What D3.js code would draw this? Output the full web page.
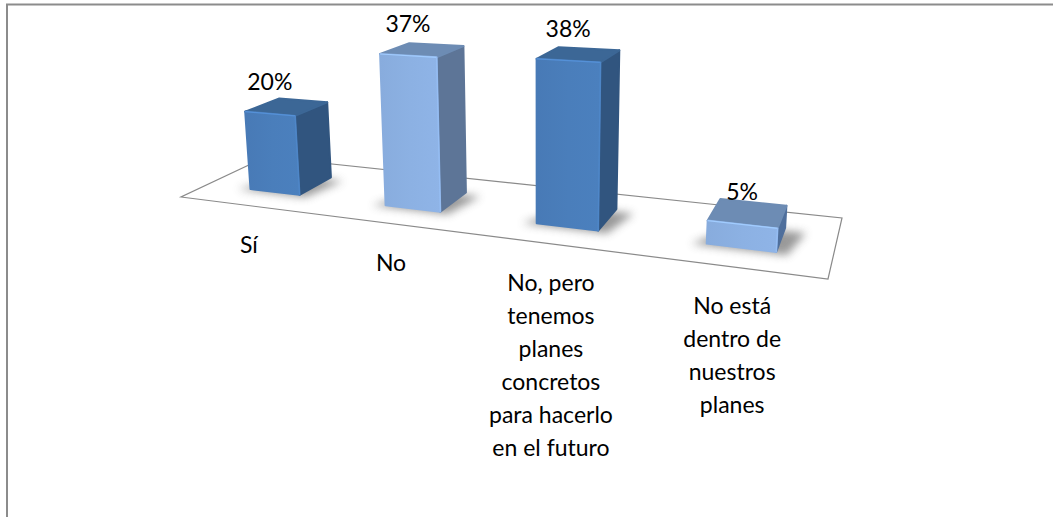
<!DOCTYPE html>
<html><head><meta charset="utf-8">
<script src="https://d3js.org/d3.v7.min.js"></script>
<style>html,body{margin:0;padding:0;background:#fff}svg{display:block}</style>
</head><body><svg width="1053" height="517"></svg>
<script>
const categories = ["Sí","No","No, pero tenemos planes concretos para hacerlo en el futuro","No está dentro de nuestros planes"];
const categoryLines = [["Sí"],["No"],["No, pero","tenemos","planes","concretos","para hacerlo","en el futuro"],["No está","dentro de","nuestros","planes"]];
const values = [20,37,38,5];
const labels = ["20%","37%","38%","5%"];
const fronts = ["#4a7ebb","#8cb1e3","#4a7ebb","#8cb1e3"];
const sides  = ["#31557f","#5d7597","#31557f","#4f6f9c"];
const tops   = ["#3c6796","#6d8cb4","#3c6796","#6d8cb4"];

const svg = d3.select("svg");
const defs = svg.append("defs");
defs.append("filter").attr("id","blur").attr("x","-40%").attr("y","-40%").attr("width","180%").attr("height","180%")
  .append("feGaussianBlur").attr("stdDeviation",4.5);

// floor corners: front-left, front-right, back-right, back-left
const P0=[181,197],P1=[828,279],P2=[842,218],P3=[266,157];
function homography(){
  const dx1=P1[0]-P2[0],dx2=P3[0]-P2[0],sx=P0[0]-P1[0]+P2[0]-P3[0];
  const dy1=P1[1]-P2[1],dy2=P3[1]-P2[1],sy=P0[1]-P1[1]+P2[1]-P3[1];
  const det=dx1*dy2-dx2*dy1;
  const g=(sx*dy2-dx2*sy)/det,h=(dx1*sy-sx*dy1)/det;
  return {a:P1[0]-P0[0]+g*P1[0],b:P3[0]-P0[0]+h*P3[0],c:P0[0],
          d:P1[1]-P0[1]+g*P1[1],e:P3[1]-P0[1]+h*P3[1],f:P0[1],g,h};
}
const H=homography();
const VP=[540,4400];
const u=d3.scaleBand().domain(categories).range([0.005,1.005]).paddingInner(0.625).paddingOuter(0.3125);
const v=d3.scaleLinear().domain([0,1]).range([0.3,0.71]);
const heightScale=d3.scaleLinear().domain([0,40]).range([0,158]);

function project(uu,vv,val=0){
  const w=H.g*uu+H.h*vv+1;
  const x=(H.a*uu+H.b*vv+H.c)/w, y=(H.d*uu+H.e*vv+H.f)/w;
  const hpx=heightScale(val)/w;
  const t=hpx/(VP[1]-y);
  return [x-(VP[0]-x)*t, y-hpx];
}
const path=pts=>"M"+pts.map(p=>p.map(n=>n.toFixed(1)).join(",")).join("L")+"Z";

// plot frame
svg.append("path").attr("d","M7,517V4.5H1053").attr("fill","none").attr("stroke","#8c8c8c").attr("stroke-width",2);

// floor
svg.append("path").attr("d",path([[0,0],[1,0],[1,1],[0,1]].map(c=>project(c[0],c[1]))))
  .attr("fill","#fff").attr("stroke","#8a8a8a").attr("stroke-width",1.2);

const g=svg.append("g");
categories.forEach((c,i)=>{
  const u0=u(c),u1=u0+u.bandwidth(),v0=v(0),v1=v(1),val=values[i];
  const uc=u0+u.bandwidth()/2;
  // shadow
  g.append("path").attr("d",path([project(u0-0.02,v0-0.03),project(u1+0.015,v0-0.03),project(u1+0.03,v1-0.05),project(u0+0.03,v1-0.05)]))
    .attr("fill","#555").attr("opacity",0.6).attr("filter","url(#blur)");
  const fbl=project(u0,v0),fbr=project(u1,v0),bbr=project(u1,v1);
  const ftl=project(u0,v0,val),ftr=project(u1,v0,val),btr=project(u1,v1,val),btl=project(u0,v1,val);
  const id="grad"+i;
  const gr=defs.append("linearGradient").attr("id",id);
  gr.append("stop").attr("offset",0).attr("stop-color",d3.color(fronts[i]).darker(0.08));
  gr.append("stop").attr("offset",0.5).attr("stop-color",fronts[i]);
  gr.append("stop").attr("offset",1).attr("stop-color",d3.color(fronts[i]).brighter(0.05));
  const face=(pts,fill)=>g.append("path").attr("d",path(pts)).attr("fill",fill).attr("stroke",fill).attr("stroke-width",2).attr("stroke-linejoin","round");
  face([fbr,bbr,btr,ftr],sides[i]);
  face([ftl,ftr,btr,btl],tops[i]);
  face([fbl,fbr,ftr,ftl],"url(#"+id+")");
  g.append("path").attr("d",path([ftl,ftr]).replace("Z","")).attr("stroke",d3.color(fronts[i]).brighter(0.4)).attr("stroke-width",1.2).attr("fill","none");
  g.append("path").attr("d",path([ftr,fbr]).replace("Z","")).attr("stroke",d3.color(fronts[i]).brighter(0.2)).attr("stroke-width",1.2).attr("fill","none");
  // value label
  const top=project(uc,v0,val);
  svg.append("text").attr("x",top[0]).attr("y",top[1]-24)
    .attr("text-anchor","middle").attr("font-family","Lato").attr("font-size",23).attr("fill","#000").text(labels[i]);
  // category label
  const a=project(uc,0);
  const t=svg.append("text").attr("text-anchor","middle").attr("font-family","Lato").attr("font-size",23).attr("fill","#000");
  categoryLines[i].forEach((l,k)=>t.append("tspan").attr("x",a[0]).attr("y",a[1]+47+k*33).text(l));
});
</script></body></html>
